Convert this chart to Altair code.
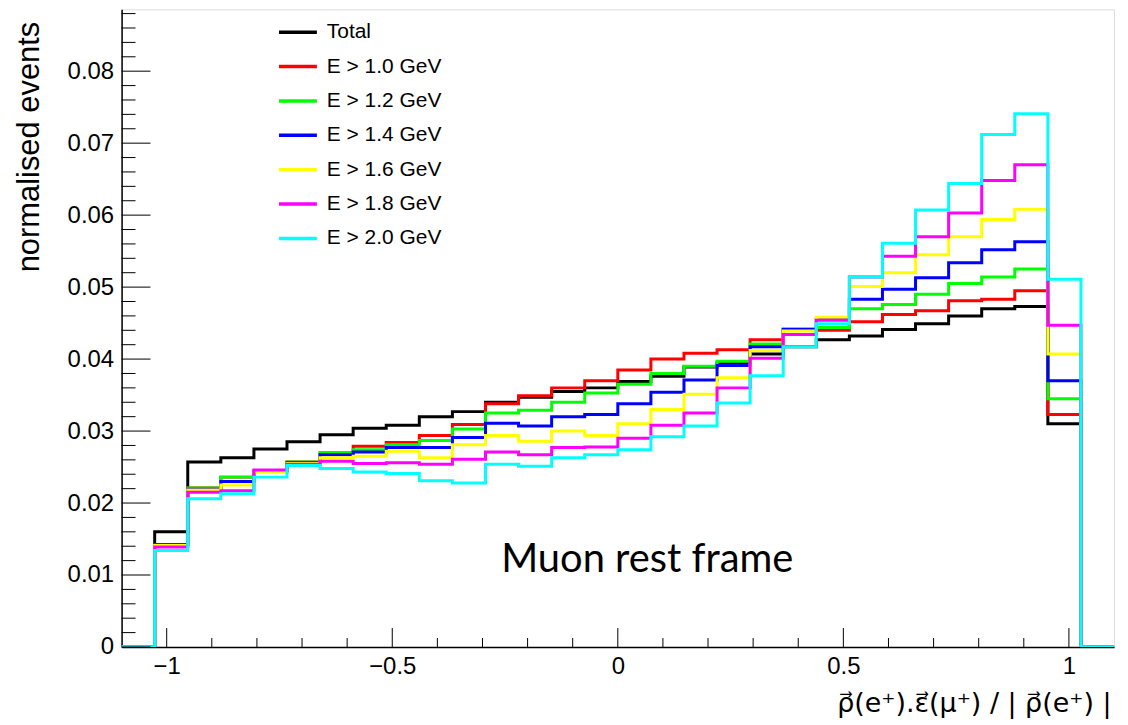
import altair as alt
import pandas as pd

# ---------------- data ----------------
X_MIN, X_MAX, N_BINS = -1.1, 1.1, 30

SERIES = ["Total", "E > 1.0 GeV", "E > 1.2 GeV", "E > 1.4 GeV",
          "E > 1.6 GeV", "E > 1.8 GeV", "E > 2.0 GeV"]
COLORS = ["#000000", "#ff0000", "#00ff00", "#0000ff",
          "#ffff00", "#ff00ff", "#00ffff"]

# contents of the 28 non-empty bins (first and last bins are empty)
total = [0.0160, 0.0257, 0.0263, 0.0275, 0.0285, 0.0295, 0.0304, 0.0308, 0.0320, 0.0327,
         0.0340, 0.0347, 0.0355, 0.0360, 0.0369, 0.0376, 0.0389, 0.0395, 0.0407, 0.0417,
         0.0427, 0.0432, 0.0441, 0.0449, 0.0460, 0.0470, 0.0473, 0.0310]
e10 = [0.0142, 0.0221, 0.0236, 0.0244, 0.0257, 0.0270, 0.0279, 0.0284, 0.0294, 0.0309,
       0.0338, 0.0349, 0.0360, 0.0370, 0.0385, 0.0400, 0.0408, 0.0413, 0.0427, 0.0441,
       0.0440, 0.0452, 0.0462, 0.0467, 0.0481, 0.0483, 0.0495, 0.0323]
e12 = [0.0142, 0.0221, 0.0236, 0.0245, 0.0257, 0.0270, 0.0274, 0.0281, 0.0287, 0.0303,
       0.0325, 0.0329, 0.0340, 0.0353, 0.0365, 0.0380, 0.0390, 0.0397, 0.0421, 0.0442,
       0.0444, 0.0470, 0.0476, 0.0490, 0.0505, 0.0514, 0.0525, 0.0345]
e14 = [0.0142, 0.0219, 0.0230, 0.0244, 0.0256, 0.0267, 0.0271, 0.0277, 0.0277, 0.0291,
       0.0311, 0.0307, 0.0320, 0.0323, 0.0338, 0.0354, 0.0371, 0.0391, 0.0417, 0.0441,
       0.0456, 0.0483, 0.0497, 0.0513, 0.0534, 0.0552, 0.0563, 0.0370]
e16 = [0.0141, 0.0218, 0.0225, 0.0243, 0.0255, 0.0263, 0.0265, 0.0272, 0.0263, 0.0281,
       0.0294, 0.0286, 0.0300, 0.0294, 0.0310, 0.0330, 0.0351, 0.0374, 0.0412, 0.0439,
       0.0458, 0.0501, 0.0520, 0.0545, 0.0570, 0.0594, 0.0608, 0.0407]
e18 = [0.0139, 0.0215, 0.0217, 0.0246, 0.0254, 0.0258, 0.0255, 0.0256, 0.0254, 0.0261,
       0.0271, 0.0267, 0.0277, 0.0278, 0.0290, 0.0308, 0.0325, 0.0360, 0.0401, 0.0434,
       0.0454, 0.0514, 0.0543, 0.0570, 0.0603, 0.0648, 0.0670, 0.0447]
e20 = [0.0134, 0.0206, 0.0213, 0.0236, 0.0252, 0.0248, 0.0243, 0.0241, 0.0231, 0.0228,
       0.0254, 0.0251, 0.0263, 0.0267, 0.0274, 0.0292, 0.0307, 0.0339, 0.0377, 0.0417,
       0.0449, 0.0514, 0.0561, 0.0607, 0.0644, 0.0712, 0.0741, 0.0511]
VALUES = [total, e10, e12, e14, e16, e18, e20]

X_LABELS = [-1, -0.5, 0, 0.5, 1]
Y_LABELS = [0, 0.01, 0.02, 0.03, 0.04, 0.05, 0.06, 0.07, 0.08]
X_MINOR = [round(-1.0 + 0.1 * i, 1) for i in range(21)]
Y_MINOR = [round(0.002 * i, 3) for i in range(45)]
Y_MAX = 0.0886

# ---------------- layout ----------------
W, H = 996, 640
FONT = "Liberation Sans"

xscale = alt.Scale(domain=[X_MIN, X_MAX], nice=False, zero=False)
yscale = alt.Scale(domain=[0, Y_MAX], nice=False)

xaxis = alt.Axis(values=X_LABELS, format="~g", ticks=False, tickSize=0, grid=False,
                 labelFontSize=24, labelFont=FONT, labelColor="black", labelPadding=8,
                 domainColor="black", domainWidth=1.5,
                 title="ρ⃗(e⁺).ε⃗(μ⁺) / | ρ⃗(e⁺) |", titleFont="DejaVu Sans", titleFontSize=27,
                 titleFontWeight="normal", titleColor="black",
                 titleAlign="right", titleX=W - 3, titleY=65, titleBaseline="alphabetic")
yaxis = alt.Axis(values=Y_LABELS, format="~g", ticks=False, tickSize=0, grid=False,
                 labelFontSize=24, labelFont=FONT, labelColor="black", labelPadding=8,
                 domainColor="black", domainWidth=1.5,
                 title="normalised events", titleFont=FONT, titleFontSize=31,
                 titleFontWeight="normal", titleColor="black", titleAngle=-90,
                 titleAlign="right", titleX=-83, titleY=12, titleBaseline="alphabetic")

def X(field="x"):
    return alt.X(f"{field}:Q", scale=xscale, axis=xaxis)

def Y(field="y"):
    return alt.Y(f"{field}:Q", scale=yscale, axis=yaxis)

width_bin = (X_MAX - X_MIN) / N_BINS
edges = [X_MIN + k * width_bin for k in range(N_BINS + 1)]

layers = []
for name, color, vals in zip(SERIES, COLORS, VALUES):
    hist = [0.0] + vals + [0.0]
    ys = hist + [hist[-1]]
    df = pd.DataFrame({"x": edges, "y": ys, "series": name})
    layers.append(
        alt.Chart(df).mark_line(color=color, strokeWidth=3, interpolate="step-after",
                                clip=True)
        .encode(x=X(), y=Y())
    )

# inward ticks (ROOT style)
xt_major = pd.DataFrame({"x": X_LABELS})
xt_minor = pd.DataFrame({"x": [v for v in X_MINOR if v not in X_LABELS]})
yt_major = pd.DataFrame({"y": Y_LABELS})
yt_minor = pd.DataFrame({"y": [v for v in Y_MINOR if round(v * 100, 6) % 1 != 0]})

ticks = [
    alt.Chart(xt_major).mark_rule(color="black", strokeWidth=1)
    .encode(x=X(), y=alt.value(H), y2=alt.value(H - 19)),
    alt.Chart(xt_minor).mark_rule(color="black", strokeWidth=1)
    .encode(x=X(), y=alt.value(H), y2=alt.value(H - 9)),
    alt.Chart(yt_major).mark_rule(color="black", strokeWidth=1)
    .encode(y=Y(), x=alt.value(0), x2=alt.value(29)),
    alt.Chart(yt_minor).mark_rule(color="black", strokeWidth=1)
    .encode(y=Y(), x=alt.value(0), x2=alt.value(14)),
]

# legend (manual, ROOT TLegend style)
legend = []
for i, (name, color) in enumerate(zip(SERIES, COLORS)):
    yp = 23 + 34.5 * i
    one = pd.DataFrame({"label": [name]})
    legend.append(alt.Chart(one).mark_rule(color=color, strokeWidth=3.5)
                  .encode(x=alt.value(158), x2=alt.value(196), y=alt.value(yp)))
    legend.append(alt.Chart(one).mark_text(font=FONT, fontSize=21, align="left",
                                           baseline="middle", color="black")
                  .encode(text="label:N", x=alt.value(206), y=alt.value(yp)))

note = alt.Chart(pd.DataFrame({"t": ["Muon rest frame"]})).mark_text(
    font="Lato", fontSize=40, align="left", baseline="alphabetic", color="black"
).encode(text="t:N", x=alt.value(381), y=alt.value(565))

chart = alt.layer(*layers, *ticks, *legend, note).properties(
    width=W, height=H,
    autosize=alt.AutoSizeParams(type="none"),
    padding={"left": 114, "top": 0, "right": 6, "bottom": 77},
).configure_view(stroke="black", strokeWidth=1.2).configure(background="white")

chart.save("out.html", embed_options={"renderer": "svg", "actions": False})
